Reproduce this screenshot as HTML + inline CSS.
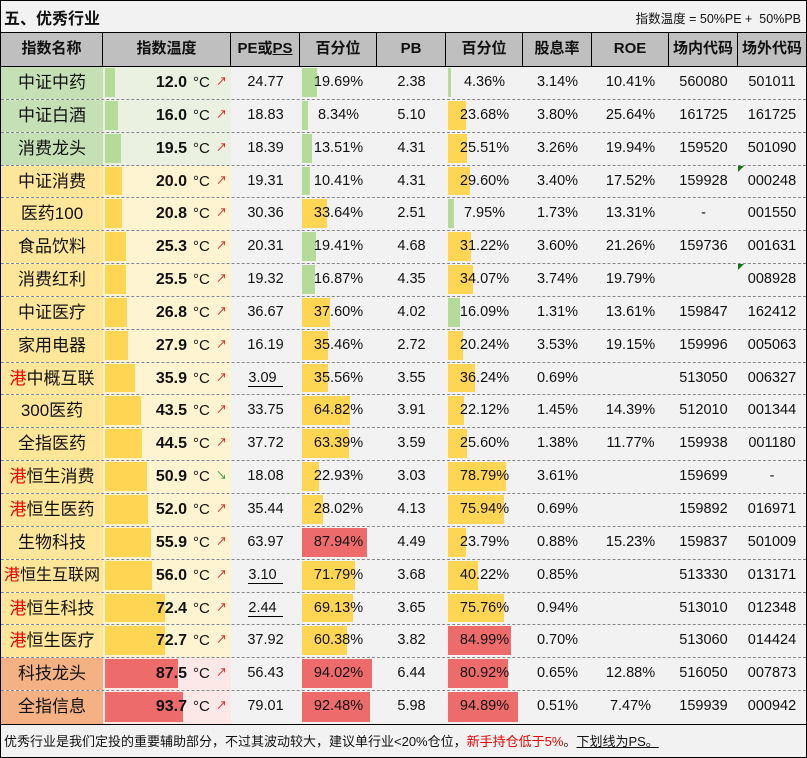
<!DOCTYPE html>
<html><head><meta charset="utf-8"><style>
*{box-sizing:border-box;margin:0;padding:0}
body{width:807px;height:758px;background:#fff;font-family:"Liberation Sans","Noto Sans CJK SC",sans-serif;color:#111;overflow:hidden}
#w{position:absolute;left:0;top:0;width:807px;height:758px;border:1px solid #000;background:#f2f2f2}
#t{position:absolute;left:0;top:0;width:805px;height:32px;border-bottom:1px solid #000}
#t .a{position:absolute;left:3px;top:4px;font-size:16px;font-weight:bold}
#t .b{position:absolute;right:5px;top:7px;font-size:12.5px}
#h{position:absolute;left:0;top:32px;width:805px;height:34px;background:#bfbfbf;border-bottom:1px solid #000;display:flex}
#h div{height:33px;border-right:1px solid #000;text-align:center;line-height:32px;font-size:15px;font-weight:bold}
#h div:last-child{border-right:none}
.w1{width:102px}.w2{width:128px}.w3{width:69px}.w4{width:77px}.w5{width:69px}.w6{width:77px}.w7{width:69px}.w8{width:77px}.w9{width:69px}.w10{width:68px}
#b{position:absolute;left:0;top:66px;width:805px}
.r{display:flex;height:32.85px;border-bottom:1px dashed #888;position:relative}
.r:last-child{border-bottom:none}
.r>div{height:100%;position:relative;text-align:center;line-height:31px;font-size:14.5px}
.n{font-size:17px!important}
.g .n{background:#c5e0b4}.y .n{background:#ffe699}.rd .n{background:#f4b183}
.g .tp{background:#ebf1e0}.y .tp{background:#fff4d2}.rd .tp{background:#fde8e8}
.bar{position:absolute;left:2px;top:1px;bottom:2px}
.g .tp .bar{background:#b4dc98}.y .tp .bar{background:#ffd653}.rd .tp .bar{background:#ee6b6b}
.bg{background:#b4dc98}.by{background:#ffd653}.br{background:#ee6b6b}
.tv{position:absolute;right:44px;top:0;font-weight:bold;font-size:16px}
.dc{position:absolute;left:90px;top:0;font-size:15px}
.ar{position:absolute;left:113px;top:0;font-size:11px;color:#e00}
.dn{color:#1a9a2a}
.tx{position:relative}
.u{display:inline-block;border-bottom:1px solid #000;line-height:15px;padding-right:6px}
.red{color:#e00}
.mk{position:absolute;left:0;top:0;width:0;height:0;border-top:6px solid #0a7a0a;border-right:6px solid transparent}
#f{position:absolute;left:0;top:723px;width:805px;height:33px;border-top:1px solid #000;font-size:13px;line-height:33px;padding-left:3px}
</style></head><body><div id="w">
<div id="t"><span class="a">五、优秀行业</span><span class="b">指数温度 = 50%PE +&nbsp; 50%PB</span></div>
<div id="h"><div class="w1">指数名称</div><div class="w2">指数温度</div><div class="w3">PE或<span style="text-decoration:underline">PS</span></div><div class="w4">百分位</div><div class="w5">PB</div><div class="w6">百分位</div><div class="w7">股息率</div><div class="w8">ROE</div><div class="w9">场内代码</div><div class="w10">场外代码</div></div>
<div id="b">
<div class="r g"><div class="w1 n">中证中药</div><div class="w2 tp"><div class="bar" style="width:10px"></div><span class="tv">12.0</span><span class="dc">°C</span><span class="ar">↗</span></div><div class="w3">24.77</div><div class="w4"><div class="bar bg" style="width:14.6px"></div><span class="tx">19.69%</span></div><div class="w5">2.38</div><div class="w6"><div class="bar bg" style="width:3.2px"></div><span class="tx">4.36%</span></div><div class="w7">3.14%</div><div class="w8">10.41%</div><div class="w9">560080</div><div class="w10">501011</div></div>
<div class="r g"><div class="w1 n">中证白酒</div><div class="w2 tp"><div class="bar" style="width:13.3px"></div><span class="tv">16.0</span><span class="dc">°C</span><span class="ar">↗</span></div><div class="w3">18.83</div><div class="w4"><div class="bar bg" style="width:6.2px"></div><span class="tx">8.34%</span></div><div class="w5">5.10</div><div class="w6"><div class="bar by" style="width:17.5px"></div><span class="tx">23.68%</span></div><div class="w7">3.80%</div><div class="w8">25.64%</div><div class="w9">161725</div><div class="w10">161725</div></div>
<div class="r g"><div class="w1 n">消费龙头</div><div class="w2 tp"><div class="bar" style="width:16.2px"></div><span class="tv">19.5</span><span class="dc">°C</span><span class="ar">↗</span></div><div class="w3">18.39</div><div class="w4"><div class="bar bg" style="width:10px"></div><span class="tx">13.51%</span></div><div class="w5">4.31</div><div class="w6"><div class="bar by" style="width:18.9px"></div><span class="tx">25.51%</span></div><div class="w7">3.26%</div><div class="w8">19.94%</div><div class="w9">159520</div><div class="w10">501090</div></div>
<div class="r y"><div class="w1 n">中证消费</div><div class="w2 tp"><div class="bar" style="width:16.6px"></div><span class="tv">20.0</span><span class="dc">°C</span><span class="ar">↗</span></div><div class="w3">19.31</div><div class="w4"><div class="bar bg" style="width:7.7px"></div><span class="tx">10.41%</span></div><div class="w5">4.31</div><div class="w6"><div class="bar by" style="width:21.9px"></div><span class="tx">29.60%</span></div><div class="w7">3.40%</div><div class="w8">17.52%</div><div class="w9">159928</div><div class="w10"><div class="mk"></div>000248</div></div>
<div class="r y"><div class="w1 n">医药100</div><div class="w2 tp"><div class="bar" style="width:17.3px"></div><span class="tv">20.8</span><span class="dc">°C</span><span class="ar">↗</span></div><div class="w3">30.36</div><div class="w4"><div class="bar by" style="width:24.9px"></div><span class="tx">33.64%</span></div><div class="w5">2.51</div><div class="w6"><div class="bar bg" style="width:5.9px"></div><span class="tx">7.95%</span></div><div class="w7">1.73%</div><div class="w8">13.31%</div><div class="w9">-</div><div class="w10">001550</div></div>
<div class="r y"><div class="w1 n">食品饮料</div><div class="w2 tp"><div class="bar" style="width:21px"></div><span class="tv">25.3</span><span class="dc">°C</span><span class="ar">↗</span></div><div class="w3">20.31</div><div class="w4"><div class="bar bg" style="width:14.4px"></div><span class="tx">19.41%</span></div><div class="w5">4.68</div><div class="w6"><div class="bar by" style="width:23.1px"></div><span class="tx">31.22%</span></div><div class="w7">3.60%</div><div class="w8">21.26%</div><div class="w9">159736</div><div class="w10">001631</div></div>
<div class="r y"><div class="w1 n">消费红利</div><div class="w2 tp"><div class="bar" style="width:21.2px"></div><span class="tv">25.5</span><span class="dc">°C</span><span class="ar">↗</span></div><div class="w3">19.32</div><div class="w4"><div class="bar bg" style="width:12.5px"></div><span class="tx">16.87%</span></div><div class="w5">4.35</div><div class="w6"><div class="bar by" style="width:25.2px"></div><span class="tx">34.07%</span></div><div class="w7">3.74%</div><div class="w8">19.79%</div><div class="w9"></div><div class="w10"><div class="mk"></div>008928</div></div>
<div class="r y"><div class="w1 n">中证医疗</div><div class="w2 tp"><div class="bar" style="width:22.2px"></div><span class="tv">26.8</span><span class="dc">°C</span><span class="ar">↗</span></div><div class="w3">36.67</div><div class="w4"><div class="bar by" style="width:27.8px"></div><span class="tx">37.60%</span></div><div class="w5">4.02</div><div class="w6"><div class="bar bg" style="width:11.9px"></div><span class="tx">16.09%</span></div><div class="w7">1.31%</div><div class="w8">13.61%</div><div class="w9">159847</div><div class="w10">162412</div></div>
<div class="r y"><div class="w1 n">家用电器</div><div class="w2 tp"><div class="bar" style="width:23.2px"></div><span class="tv">27.9</span><span class="dc">°C</span><span class="ar">↗</span></div><div class="w3">16.19</div><div class="w4"><div class="bar by" style="width:26.2px"></div><span class="tx">35.46%</span></div><div class="w5">2.72</div><div class="w6"><div class="bar by" style="width:15px"></div><span class="tx">20.24%</span></div><div class="w7">3.53%</div><div class="w8">19.15%</div><div class="w9">159996</div><div class="w10">005063</div></div>
<div class="r y"><div class="w1 n"><span class="red">港</span>中概互联</div><div class="w2 tp"><div class="bar" style="width:29.8px"></div><span class="tv">35.9</span><span class="dc">°C</span><span class="ar">↗</span></div><div class="w3"><span class="u">3.09</span></div><div class="w4"><div class="bar by" style="width:26.3px"></div><span class="tx">35.56%</span></div><div class="w5">3.55</div><div class="w6"><div class="bar by" style="width:26.8px"></div><span class="tx">36.24%</span></div><div class="w7">0.69%</div><div class="w8"></div><div class="w9">513050</div><div class="w10">006327</div></div>
<div class="r y"><div class="w1 n">300医药</div><div class="w2 tp"><div class="bar" style="width:36.1px"></div><span class="tv">43.5</span><span class="dc">°C</span><span class="ar">↗</span></div><div class="w3">33.75</div><div class="w4"><div class="bar by" style="width:48px"></div><span class="tx">64.82%</span></div><div class="w5">3.91</div><div class="w6"><div class="bar by" style="width:16.4px"></div><span class="tx">22.12%</span></div><div class="w7">1.45%</div><div class="w8">14.39%</div><div class="w9">512010</div><div class="w10">001344</div></div>
<div class="r y"><div class="w1 n">全指医药</div><div class="w2 tp"><div class="bar" style="width:36.9px"></div><span class="tv">44.5</span><span class="dc">°C</span><span class="ar">↗</span></div><div class="w3">37.72</div><div class="w4"><div class="bar by" style="width:46.9px"></div><span class="tx">63.39%</span></div><div class="w5">3.59</div><div class="w6"><div class="bar by" style="width:18.9px"></div><span class="tx">25.60%</span></div><div class="w7">1.38%</div><div class="w8">11.77%</div><div class="w9">159938</div><div class="w10">001180</div></div>
<div class="r y"><div class="w1 n"><span class="red">港</span>恒生消费</div><div class="w2 tp"><div class="bar" style="width:42.2px"></div><span class="tv">50.9</span><span class="dc">°C</span><span class="ar dn">↘</span></div><div class="w3">18.08</div><div class="w4"><div class="bar by" style="width:17px"></div><span class="tx">22.93%</span></div><div class="w5">3.03</div><div class="w6"><div class="bar by" style="width:58.3px"></div><span class="tx">78.79%</span></div><div class="w7">3.61%</div><div class="w8"></div><div class="w9">159699</div><div class="w10">-</div></div>
<div class="r y"><div class="w1 n"><span class="red">港</span>恒生医药</div><div class="w2 tp"><div class="bar" style="width:43.2px"></div><span class="tv">52.0</span><span class="dc">°C</span><span class="ar">↗</span></div><div class="w3">35.44</div><div class="w4"><div class="bar by" style="width:20.7px"></div><span class="tx">28.02%</span></div><div class="w5">4.13</div><div class="w6"><div class="bar by" style="width:56.2px"></div><span class="tx">75.94%</span></div><div class="w7">0.69%</div><div class="w8"></div><div class="w9">159892</div><div class="w10">016971</div></div>
<div class="r y"><div class="w1 n">生物科技</div><div class="w2 tp"><div class="bar" style="width:46.4px"></div><span class="tv">55.9</span><span class="dc">°C</span><span class="ar">↗</span></div><div class="w3">63.97</div><div class="w4"><div class="bar br" style="width:65.1px"></div><span class="tx">87.94%</span></div><div class="w5">4.49</div><div class="w6"><div class="bar by" style="width:17.6px"></div><span class="tx">23.79%</span></div><div class="w7">0.88%</div><div class="w8">15.23%</div><div class="w9">159837</div><div class="w10">501009</div></div>
<div class="r y"><div class="w1 n" style="font-size:16px!important"><span class="red">港</span>恒生互联网</div><div class="w2 tp"><div class="bar" style="width:46.5px"></div><span class="tv">56.0</span><span class="dc">°C</span><span class="ar">↗</span></div><div class="w3"><span class="u">3.10</span></div><div class="w4"><div class="bar by" style="width:53.1px"></div><span class="tx">71.79%</span></div><div class="w5">3.68</div><div class="w6"><div class="bar by" style="width:29.8px"></div><span class="tx">40.22%</span></div><div class="w7">0.85%</div><div class="w8"></div><div class="w9">513330</div><div class="w10">013171</div></div>
<div class="r y"><div class="w1 n"><span class="red">港</span>恒生科技</div><div class="w2 tp"><div class="bar" style="width:60.1px"></div><span class="tv">72.4</span><span class="dc">°C</span><span class="ar">↗</span></div><div class="w3"><span class="u">2.44</span></div><div class="w4"><div class="bar by" style="width:51.2px"></div><span class="tx">69.13%</span></div><div class="w5">3.65</div><div class="w6"><div class="bar by" style="width:56.1px"></div><span class="tx">75.76%</span></div><div class="w7">0.94%</div><div class="w8"></div><div class="w9">513010</div><div class="w10">012348</div></div>
<div class="r y"><div class="w1 n"><span class="red">港</span>恒生医疗</div><div class="w2 tp"><div class="bar" style="width:60.3px"></div><span class="tv">72.7</span><span class="dc">°C</span><span class="ar">↗</span></div><div class="w3">37.92</div><div class="w4"><div class="bar by" style="width:44.7px"></div><span class="tx">60.38%</span></div><div class="w5">3.82</div><div class="w6"><div class="bar br" style="width:62.9px"></div><span class="tx">84.99%</span></div><div class="w7">0.70%</div><div class="w8"></div><div class="w9">513060</div><div class="w10">014424</div></div>
<div class="r rd"><div class="w1 n">科技龙头</div><div class="w2 tp"><div class="bar" style="width:72.6px"></div><span class="tv">87.5</span><span class="dc">°C</span><span class="ar">↗</span></div><div class="w3">56.43</div><div class="w4"><div class="bar br" style="width:69.6px"></div><span class="tx">94.02%</span></div><div class="w5">6.44</div><div class="w6"><div class="bar br" style="width:59.9px"></div><span class="tx">80.92%</span></div><div class="w7">0.65%</div><div class="w8">12.88%</div><div class="w9">516050</div><div class="w10">007873</div></div>
<div class="r rd"><div class="w1 n">全指信息</div><div class="w2 tp"><div class="bar" style="width:77.8px"></div><span class="tv">93.7</span><span class="dc">°C</span><span class="ar">↗</span></div><div class="w3">79.01</div><div class="w4"><div class="bar br" style="width:68.4px"></div><span class="tx">92.48%</span></div><div class="w5">5.98</div><div class="w6"><div class="bar br" style="width:70.2px"></div><span class="tx">94.89%</span></div><div class="w7">0.51%</div><div class="w8">7.47%</div><div class="w9">159939</div><div class="w10">000942</div></div>
</div>
<div id="f">优秀行业是我们定投的重要辅助部分，不过其波动较大，建议单行业&lt;20%仓位，<span class="red">新手持仓低于5%</span>。<span style="text-decoration:underline">下划线为PS。</span></div>
</div></body></html>
